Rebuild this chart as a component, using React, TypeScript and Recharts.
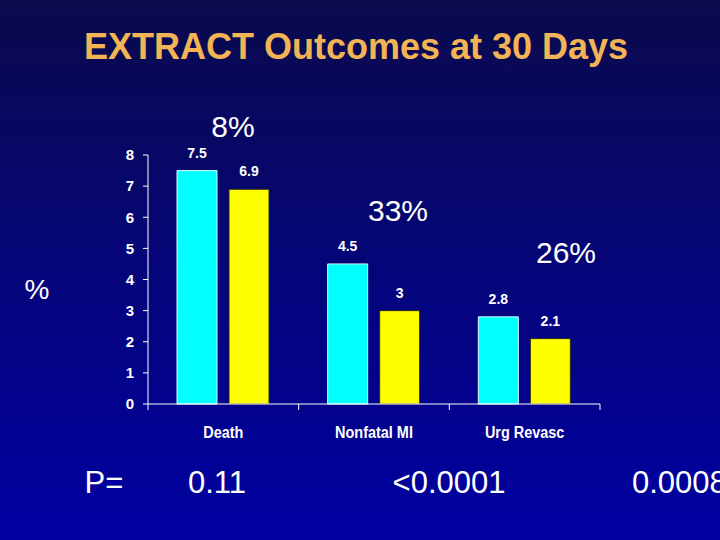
import { Bar, BarChart, LabelList, XAxis, YAxis } from 'recharts';

const categories = ['Death', 'Nonfatal MI', 'Urg Revasc'];
const groupA = [7.5, 4.5, 2.8];
const groupB = [6.9, 3, 2.1];
const yTicks = [0, 1, 2, 3, 4, 5, 6, 7, 8];
const reductions = ['8%', '33%', '26%'];
const pValues = ['0.11', '<0.0001', '0.0008'];

const data = categories.map((name, i) => ({ name, a: groupA[i], b: groupB[i] }));

const sans = "'Liberation Sans', Arial, sans-serif";

// where the annotation texts sit on the slide
const reductionPos = [
  { left: 233, top: 127 },
  { left: 398, top: 211 },
  { left: 566, top: 253 }
];
const pPos = [217, 449, 672];

const centered = (left: number, top: number, size: number): React.CSSProperties => ({
  position: 'absolute',
  left,
  top,
  transform: 'translate(-50%, -50%)',
  fontSize: size,
  fontFamily: sans,
  color: '#ffffff',
  whiteSpace: 'nowrap',
  lineHeight: 1
});

// category label in a narrow bold face, plus tick marks on the band edges
const CategoryTick = (props: any) => {
  const { x, y, payload, index, visibleTicksCount } = props;
  const half = payload.offset ?? 0;
  const top = y - 8;
  return (
    <g>
      <line x1={x - half} x2={x - half} y1={top} y2={top + 6} stroke="#ffffff" />
      {index === visibleTicksCount - 1 && (
        <line x1={x + half} x2={x + half} y1={top} y2={top + 6} stroke="#ffffff" />
      )}
      <text
        transform={`translate(${x}, ${y + 26}) scale(0.85, 1)`}
        textAnchor="middle"
        fill="#ffffff"
        fontSize={17}
        fontWeight="bold"
        fontFamily={sans}
      >
        {payload.value}
      </text>
    </g>
  );
};

const labelStyle = {
  fill: '#ffffff',
  fontSize: 14,
  fontWeight: 'bold',
  fontFamily: sans
};

export default function App() {
  return (
    <div
      style={{
        position: 'absolute',
        left: 0,
        top: 0,
        width: 720,
        height: 540,
        overflow: 'hidden',
        background: 'linear-gradient(to bottom, #0a0a4c 0%, #05057a 50%, #0000a2 100%)'
      }}
    >
      <div
        style={{
          ...centered(356, 47, 36),
          color: '#f2b455',
          fontWeight: 'bold'
        }}
      >
        EXTRACT Outcomes at 30 Days
      </div>

      <BarChart
        width={720}
        height={540}
        data={data}
        margin={{ top: 155, right: 120, bottom: 76, left: 106 }}
        barGap={12}
        style={{ position: 'absolute', left: 0, top: 0 }}
      >
        <XAxis
          dataKey="name"
          stroke="#ffffff"
          tickLine={false}
          height={60}
          interval={0}
          tick={<CategoryTick />}
        />
        <YAxis
          domain={[0, 8]}
          ticks={yTicks}
          width={42}
          stroke="#ffffff"
          tickSize={5}
          tickMargin={9}
          tick={{ ...labelStyle, fontSize: 15 }}
        />
        <Bar dataKey="a" fill="#00ffff" stroke="#d8ffff" barSize={40} isAnimationActive={false}>
          <LabelList dataKey="a" position="top" offset={13} {...labelStyle} />
        </Bar>
        <Bar dataKey="b" fill="#ffff00" stroke="#2a2a20" barSize={40} isAnimationActive={false}>
          <LabelList dataKey="b" position="top" offset={13} {...labelStyle} />
        </Bar>
      </BarChart>

      {reductions.map((r, i) => (
        <div key={r} style={centered(reductionPos[i].left, reductionPos[i].top, 30)}>
          {r}
        </div>
      ))}

      <div style={centered(37, 290, 28)}>%</div>

      <div style={centered(104, 482, 31)}>P=</div>
      {pValues.map((p, i) => (
        <div
          key={p}
          style={
            i === 2
              ? { ...centered(pPos[i], 482, 31), transform: 'translate(-40px, -50%)' }
              : centered(pPos[i], 482, 31)
          }
        >
          {p}
        </div>
      ))}
    </div>
  );
}
